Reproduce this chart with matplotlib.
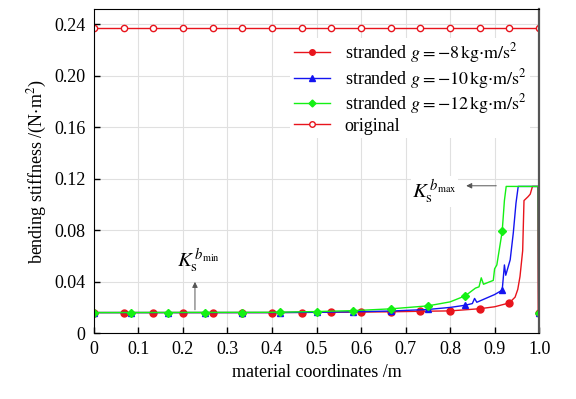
import numpy as np
import matplotlib
matplotlib.use('Agg')
import matplotlib.pyplot as plt
from matplotlib.lines import Line2D

plt.rcParams['font.family'] = ['Liberation Serif', 'DejaVu Serif']
plt.rcParams['mathtext.fontset'] = 'stix'
plt.rcParams['font.size'] = 13

# curves
x_red = [0, 0.4, 0.5, 0.6, 0.667, 0.733, 0.8, 0.867, 0.9, 0.933, 0.946, 0.952, 0.957, 0.963,
         0.966, 0.975, 0.98, 0.985, 0.997, 0.998, 1.0]
y_red = [0.016, 0.016, 0.0162, 0.0164, 0.0166, 0.017, 0.0173, 0.019, 0.0205, 0.0235, 0.028,
         0.034, 0.044, 0.064, 0.103, 0.106, 0.108, 0.114, 0.114, 0.016, 0.016]

x_blue = [0, 0.4, 0.5, 0.6, 0.667, 0.75, 0.8, 0.834, 0.85, 0.855, 0.86, 0.9, 0.905, 0.917,
          0.92, 0.922, 0.925, 0.935, 0.942, 0.948, 0.953, 0.998, 0.999, 1.0]
y_blue = [0.016, 0.016, 0.0162, 0.0167, 0.0172, 0.0184, 0.02, 0.0217, 0.023, 0.027, 0.024,
          0.030, 0.031, 0.0334, 0.045, 0.053, 0.045, 0.057, 0.078, 0.101, 0.114, 0.114, 0.016, 0.016]

x_green = [0, 0.4, 0.5, 0.583, 0.667, 0.75, 0.8, 0.834, 0.857, 0.865, 0.87, 0.875, 0.897,
           0.9, 0.905, 0.917, 0.922, 0.926, 0.998, 0.999, 1.0]
y_green = [0.016, 0.0162, 0.0168, 0.0175, 0.0189, 0.0212, 0.0243, 0.029, 0.035, 0.036, 0.043,
           0.038, 0.041, 0.05, 0.053, 0.079, 0.103, 0.114, 0.114, 0.016, 0.016]

# marker positions
mx_red = [0, 0.067, 0.133, 0.2, 0.267, 0.333, 0.4, 0.467, 0.533, 0.6, 0.667, 0.733, 0.8,
          0.867, 0.933, 1.0]
my_red = [0.016, 0.016, 0.016, 0.016, 0.016, 0.016, 0.016, 0.016, 0.0161, 0.0164, 0.0166,
          0.017, 0.0173, 0.019, 0.0235, 0.016]
mx_12 = [0, 0.083, 0.167, 0.25, 0.333, 0.417, 0.5, 0.583, 0.667, 0.75, 0.833, 0.917, 1.0]
my_blue = [0.016, 0.016, 0.016, 0.016, 0.016, 0.016, 0.0162, 0.0166, 0.0172, 0.0184, 0.022,
           0.0334, 0.016]
my_green = [0.016, 0.016, 0.016, 0.016, 0.016, 0.0164, 0.0168, 0.0175, 0.0189, 0.0212, 0.029,
            0.079, 0.016]

x_orig = [0, 0.067, 0.133, 0.2, 0.267, 0.333, 0.4, 0.467, 0.533, 0.6, 0.667, 0.733, 0.8,
          0.867, 0.933, 1.0]
y_orig = [0.237] * 16

labels = [r'stranded $g=-8\,\mathrm{kg{\cdot}m/s^2}$',
          r'stranded $g=-10\,\mathrm{kg{\cdot}m/s^2}$',
          r'stranded $g=-12\,\mathrm{kg{\cdot}m/s^2}$',
          'original']

red = '#e8141c'
blue = '#1414f0'
green = '#14f014'

fig = plt.figure(figsize=(5.76, 3.99), dpi=100)
ax = fig.add_axes([0.163, 0.165, 0.773, 0.812])

ax.plot(x_orig, y_orig, color=red, lw=1, marker='o', ms=4.5, mfc='white', mec=red, mew=1)
ax.plot(x_red, y_red, color=red, lw=1)
ax.plot(mx_red, my_red, ls='none', marker='o', ms=5, color=red)
ax.plot(x_blue, y_blue, color=blue, lw=1)
ax.plot(mx_12, my_blue, ls='none', marker='^', ms=5, color=blue)
ax.plot(x_green, y_green, color=green, lw=1)
ax.plot(mx_12, my_green, ls='none', marker='D', ms=4.5, color=green)

handles = [Line2D([], [], color=red, lw=1, marker='o', ms=4),
           Line2D([], [], color=blue, lw=1, marker='^', ms=4),
           Line2D([], [], color=green, lw=1, marker='D', ms=3.5),
           Line2D([], [], color=red, lw=1, marker='o', ms=4, mfc='white')]
ax.legend(handles, labels, loc='upper right', bbox_to_anchor=(1.0, 0.94), frameon=True,
          framealpha=1, edgecolor='none', fancybox=False, handlelength=2.0,
          borderpad=0.2, labelspacing=0.08, fontsize=13)

# annotations
ax.annotate('', xy=(0.83, 0.1145), xytext=(0.91, 0.1145),
            arrowprops=dict(arrowstyle='-|>', color='#555555', lw=0.7, mutation_scale=8))
ax.text(0.765, 0.110, r'$K_\mathrm{s}^{\,b_\mathrm{max}}$', fontsize=15, ha='center', va='center',
        bbox=dict(facecolor='white', edgecolor='none', pad=1))
ax.annotate('', xy=(0.227, 0.042), xytext=(0.227, 0.016),
            arrowprops=dict(arrowstyle='-|>', color='#555555', lw=0.7, mutation_scale=8))
ax.text(0.235, 0.056, r'$K_\mathrm{s}^{\,b_\mathrm{min}}$', fontsize=15, ha='center', va='center')

ax.set_xlim(0, 1.0)
ax.set_ylim(0, 0.2517)
ax.set_xticks(np.arange(0, 1.01, 0.1))
ax.set_xticklabels(['0', '0.1', '0.2', '0.3', '0.4', '0.5', '0.6', '0.7', '0.8', '0.9', '1.0'])
ax.set_yticks([0, 0.04, 0.08, 0.12, 0.16, 0.20, 0.24])
ax.set_yticklabels(['0', '0.04', '0.08', '0.12', '0.16', '0.20', '0.24'])
ax.tick_params(direction='in', length=4, width=1, labelsize=13, pad=6)
ax.grid(True, color='#e0e0e0', lw=0.8)
ax.set_axisbelow(True)
ax.spines['right'].set_color('#555555')
ax.spines['right'].set_linewidth(1.6)
ax.set_xlabel('material coordinates /m', fontsize=13)
ax.set_ylabel(r'bending stiffness /(N$\cdot$m$^2$)', fontsize=13)

fig.savefig('out.png', dpi=100)
